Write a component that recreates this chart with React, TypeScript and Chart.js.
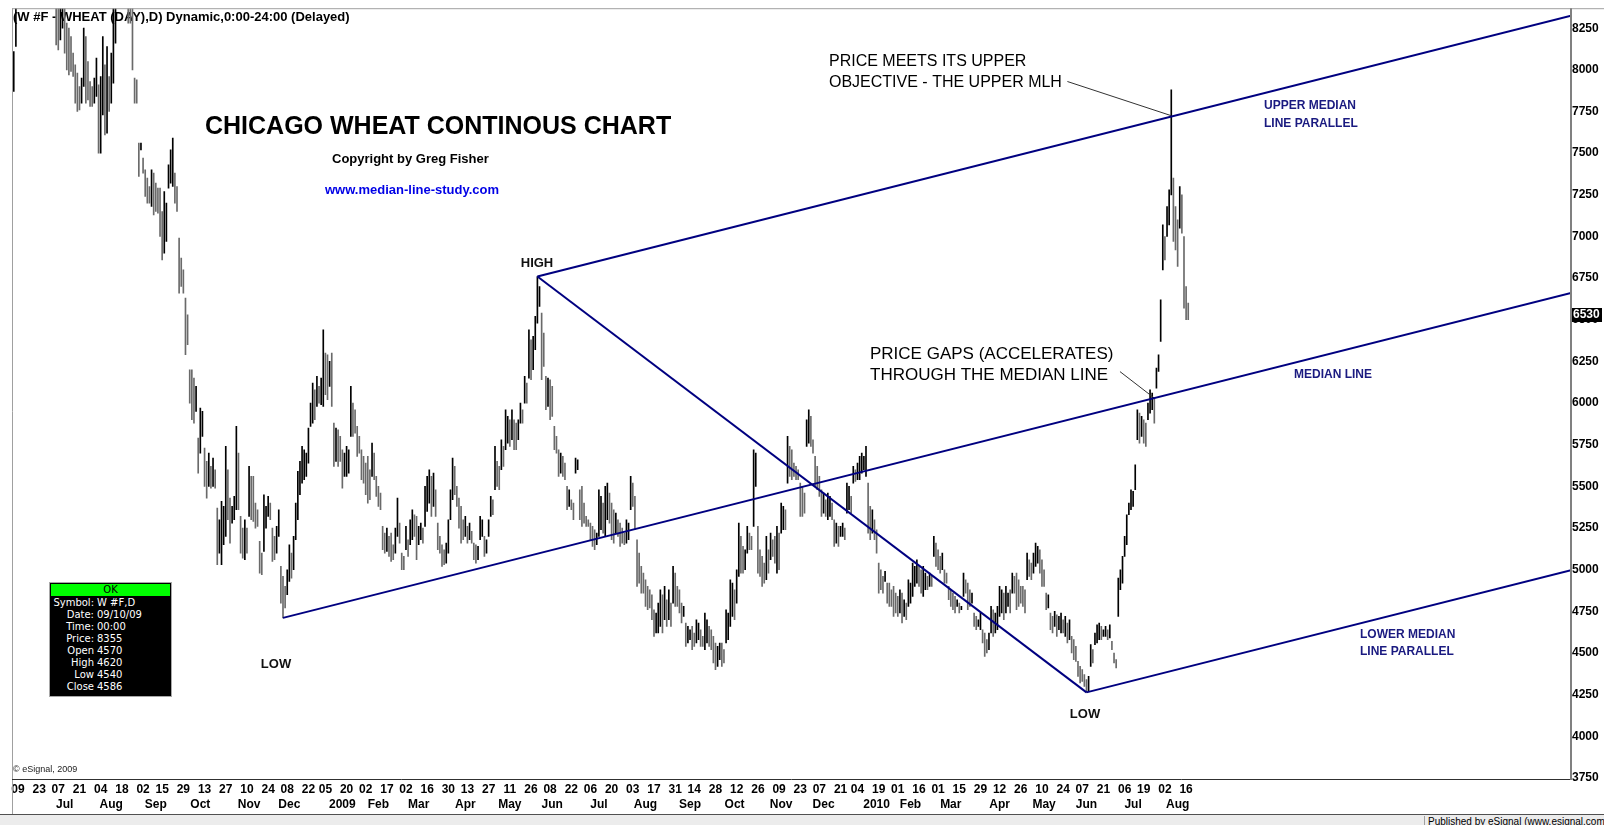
import React, { useEffect, useRef } from "react";
import { Chart, registerables } from "chart.js";

Chart.register(...registerables);

const FONT = '"Liberation Sans", Arial, Helvetica, sans-serif';

// trading-day index of the first bar (index 0 = 09 Jun 2008)
const firstBarIndex = -2;

// daily highs / lows (Chicago wheat continuous, cents)
const high2008 = [
  8110, 8450, 8600, 8700, 8800, 8900, 8850, 8750, 8800, 8700,
  8650, 8600, 8700, 8800, 8750, 8650, 8600, 8700, 8650, 8550,
  8500, 8450, 8420, 8400, 8380, 8280, 8250, 8200, 8100, 8030,
  7980, 7900, 7950, 8250, 8200, 8050, 7930, 7900, 7950, 8070,
  7910, 7960, 8200, 8030, 8140, 7960, 8100, 8450, 8500, 8650,
  8700, 8600, 8650, 8550, 8500, 8400, 8420, 7950, 7940, 7560,
  7560, 7470, 7400, 7350, 7300, 7400, 7380, 7320, 7290, 7290,
  7150, 7270, 7200, 7430, 7520, 7590, 7380, 7300, 6990, 6870,
  6800, 6630, 6530, 6200, 6200, 6150, 6100, 5790, 5970, 5950,
  5730, 5650, 5700, 5620, 5670, 5600, 5370, 5300, 5410, 5380,
  5740, 5600, 5430, 5380, 5440, 5860, 5700, 5320, 5250, 5300,
  5250, 5620, 5560, 5560, 5400, 5360, 5170, 5100, 5450, 5380,
  5440, 5400, 5250, 5200, 5260, 5360, 5020, 4960, 4900, 5000,
  5150, 5100, 5200, 5400, 5590, 5650, 5740, 5720, 5700, 5850,
  6000, 6120, 6080, 6160, 6100, 6150,
];
const low2008 = [
  7870, 8140, 8400, 8450, 8550, 8600, 8600, 8500, 8550, 8450,
  8420, 8400, 8450, 8550, 8500, 8420, 8400, 8450, 8420, 8380,
  8150, 8120, 8180, 8250, 8100, 8000, 7970, 7990, 7960, 7800,
  7750, 7760, 7800, 7900, 7800, 7820, 7780, 7780, 7800, 7840,
  7500, 7500, 7730, 7610, 7620, 7750, 7800, 7920, 8160, 8400,
  8450, 8400, 8420, 8380, 8280, 8280, 8000, 7800, 7800, 7360,
  7520, 7380, 7240, 7200, 7200, 7180, 7130, 7150, 7140, 7000,
  6860, 6900, 6970, 7290, 7320, 7300, 7200, 7150, 6660, 6700,
  6660, 6290, 6350, 6000, 5900, 5880, 5950, 5580, 5700, 5800,
  5500, 5430, 5500, 5490, 5500, 5490, 5030, 5100, 5030, 5150,
  5200, 5300, 5160, 5280, 5300, 5360, 5360, 5100, 5070, 5060,
  5100, 5320, 5300, 5290, 5250, 5260, 4980, 4970, 5110, 5250,
  5320, 5300, 5050, 5060, 5100, 5200, 4800, 4711, 4770, 4850,
  4930, 4950, 5000, 5180, 5300, 5450, 5520, 5540, 5560, 5640,
  5860, 5880, 5900, 5980, 6000, 5990,
];
const high2009 = [
  6440, 6300, 6290, 6250, 6300, 5880, 5850, 5840, 5800, 5720,
  5700, 5740, 5720, 6100, 6000, 5960, 5860, 5800, 5720, 5680,
  5640, 5680, 5600, 5760, 5700, 5560, 5500, 5460, 5260, 5220,
  5250, 5200, 5220, 5150, 5250, 5430, 5280, 5100, 5080, 5260,
  5180, 5300, 5360, 5330, 5320, 5260, 5280, 5250, 5500, 5560,
  5600, 5560, 5580, 5480, 5280, 5200, 5150, 5120, 5160, 5300,
  5480, 5670, 5620, 5500, 5430, 5380, 5300, 5320, 5260, 5280,
  5230, 5160, 5150, 5140, 5320, 5300, 5200, 5180, 5300, 5440,
  5420, 5740, 5650, 5620, 5780, 5740, 5960, 5920, 5900, 5960,
  5900, 5880, 5900, 6000, 5960, 6160, 6120, 6440, 6380, 6400,
  6520, 6760, 6700, 6540, 6420, 6160, 6150, 6140, 6100, 5860,
  5800, 5720, 5700, 5680, 5640, 5500, 5480, 5420, 5400, 5670,
  5660, 5480, 5500, 5400, 5320, 5300, 5280, 5260, 5240, 5220,
  5480, 5440, 5400, 5500, 5520, 5460, 5400, 5360, 5340, 5300,
  5280, 5250, 5220, 5300, 5280, 5560, 5520, 5440, 5180, 5100,
  5020, 4980, 4940, 4900, 4880, 4850, 4760, 4740, 4800, 4880,
  4850, 4900, 4820, 4880, 4800, 5020, 4980, 4900, 4880, 4800,
  4780, 4680, 4660, 4640, 4660, 4620, 4700, 4680, 4640, 4600,
  4740, 4700, 4660, 4640, 4600, 4560, 4540, 4560, 4560, 4520,
  4760, 4740, 4940, 4920, 4880, 5000, 5280, 5200, 5140, 5120,
  5260, 5220, 5200, 5720, 5700, 5260, 5120, 5080, 5040, 5200,
  5120, 5220, 5180, 5200, 5260, 5220, 5400, 5380, 5360, 5800,
  5740, 5720, 5640, 5620, 5600, 5520, 5500, 5460, 5900, 5960,
  5920, 5780, 5680, 5620, 5560, 5480, 5460, 5420, 5460, 5440,
  5400, 5300, 5280, 5260, 5260, 5280, 5250, 5520, 5500, 5440,
  5620, 5600,
];
const low2009 = [
  5980, 6050, 6020, 6100, 5980, 5620, 5650, 5620, 5650, 5490,
  5560, 5560, 5580, 5800, 5800, 5820, 5680, 5700, 5540, 5520,
  5450, 5400, 5420, 5560, 5540, 5440, 5380, 5360, 5120, 5100,
  5110, 5080, 5050, 5060, 5100, 5200, 5160, 5000, 5000, 5120,
  5080, 5150, 5180, 5200, 5060, 5150, 5180, 5160, 5260, 5350,
  5400, 5320, 5380, 5320, 5120, 5100, 5020, 5030, 5040, 5100,
  5300, 5420, 5450, 5380, 5250, 5160, 5180, 5200, 5160, 5180,
  5160, 5060, 5040, 5060, 5180, 5200, 5080, 5100, 5200, 5320,
  5330, 5480, 5500, 5480, 5600, 5620, 5720, 5760, 5740, 5780,
  5720, 5720, 5780, 5880, 5880, 6000, 6000, 6150, 6140, 6200,
  6320, 6480, 6580, 6140, 6220, 5960, 5980, 5900, 5920, 5720,
  5700, 5560, 5580, 5560, 5540, 5360, 5380, 5360, 5300, 5580,
  5600, 5300, 5260, 5280, 5260, 5260, 5180, 5140, 5120, 5150,
  5200, 5240, 5220, 5200, 5300, 5280, 5180, 5160, 5220, 5200,
  5140, 5160, 5150, 5160, 5180, 5360, 5380, 5240, 4900, 4920,
  4860, 4860, 4780, 4760, 4770, 4700, 4600, 4620, 4620, 4660,
  4620, 4700, 4660, 4700, 4660, 4800, 4780, 4780, 4740, 4680,
  4720, 4540, 4560, 4580, 4520, 4540, 4560, 4580, 4540, 4540,
  4520, 4560, 4540, 4520, 4440, 4400, 4420, 4460, 4420, 4440,
  4560, 4580, 4660, 4720, 4700, 4800, 4960, 4980, 4980, 5000,
  5100, 5120, 5120, 5260, 5500, 4980, 4960, 4900, 4920, 4940,
  4980, 5060, 5080, 5040, 4980, 5000, 5220, 5240, 5240, 5520,
  5560, 5540, 5560, 5540, 5540, 5320, 5320, 5340, 5740, 5760,
  5740, 5700, 5500, 5480, 5440, 5320, 5340, 5320, 5300, 5320,
  5300, 5140, 5160, 5140, 5200, 5200, 5180, 5340, 5360, 5340,
  5520, 5530,
];
const high2010 = [
  5640, 5680, 5700, 5680, 5740, 5520, 5380, 5360, 5300, 5240,
  5040, 5000, 4960, 4990, 4920, 4920, 4880, 4900, 4860, 4840,
  4880, 4860, 4820, 4800, 4940, 4920, 5040, 5020, 5060, 5020,
  5000, 5020, 4980, 4960, 4980, 4960, 5200, 5160, 5120, 5080,
  5100, 5000, 4980, 4900, 4880, 4860, 4840, 4820, 4800, 4780,
  4980, 4940, 4920, 4880, 4860, 4740, 4720, 4700, 4740, 4640,
  4620, 4580, 4620, 4780, 4760, 4740, 4780, 4900, 4880, 4860,
  4900, 4860, 4880, 4980, 4960, 4980, 4940, 4900, 4900, 4880,
  5100, 5060, 5040, 5100, 5160, 5140, 5120, 5060, 5000, 4860,
  4850, 4740, 4720, 4750, 4730, 4720, 4740, 4700, 4720, 4680,
  4700, 4600, 4580, 4540, 4450, 4420, 4400, 4370, 4340, 4360,
  4550, 4520, 4620, 4670, 4680, 4660, 4640, 4660, 4640, 4670,
  4570, 4500, 4460, 4950, 5000, 5080, 5200, 5330, 5400, 5480,
  5470, 5630, 5960, 5940, 5920, 5900, 5880, 6000, 6080, 6060,
  6030, 6210, 6290, 6620, 7070, 7000, 7180, 7280, 7880, 7350,
  7180, 7100, 7300, 7250, 7000, 6700, 6600,
];
const low2010 = [
  5540, 5540, 5580, 5600, 5560, 5220, 5180, 5220, 5180, 5100,
  4860, 4880, 4860, 4930, 4800, 4780, 4780, 4720, 4740, 4720,
  4740, 4680, 4720, 4700, 4780, 4800, 4840, 4900, 4920, 4900,
  4860, 4840, 4880, 4880, 4900, 4900, 5080, 5020, 5000, 4980,
  5000, 4920, 4920, 4820, 4780, 4760, 4740, 4780, 4740, 4760,
  4840, 4860, 4760, 4780, 4800, 4660, 4640, 4660, 4640, 4560,
  4480, 4500, 4520, 4620, 4600, 4620, 4640, 4720, 4740, 4700,
  4740, 4780, 4740, 4860, 4860, 4760, 4780, 4800, 4780, 4740,
  4940, 4960, 4940, 4980, 5020, 5040, 4980, 4900, 4900, 4760,
  4770, 4640, 4620, 4660, 4600, 4640, 4620, 4620, 4600, 4560,
  4580, 4500, 4460, 4450, 4360, 4320, 4330, 4300, 4264, 4270,
  4420, 4440, 4550, 4560, 4580, 4580, 4600, 4600, 4580, 4590,
  4520, 4440, 4410, 4720, 4880, 4920, 5080, 5150, 5330, 5360,
  5380, 5480, 5780, 5760, 5800, 5760, 5740, 5900, 5940, 5960,
  5880, 6090, 6190, 6370, 6800, 6860, 7000, 7070, 7250, 6970,
  6920, 6820, 7050, 7020, 6570, 6500, 6500,
];

const lastPrice = 6530;

// x axis: tick positions (trading-day index) and labels
const dayTickIndex = [
  0, 10, 19, 29, 39, 49, 59, 68, 78, 88, 98, 108, 118, 127, 137, 145, 155, 164, 174, 183,
  193, 203, 212, 222, 232, 242, 251, 261, 270, 280, 290, 300, 310, 319, 329, 339, 349, 359, 369, 378,
  388, 396, 406, 415, 425, 434, 444, 454, 463, 473, 483, 493, 502, 512, 522, 531, 541, 551,
];
const dayTickLabels = [
  "09", "23", "07", "21", "04", "18", "02", "15", "29", "13", "27", "10", "24", "08", "22", "05", "20", "02", "17", "02",
  "16", "30", "13", "27", "11", "26", "08", "22", "06", "20", "03", "17", "31", "14", "28", "12", "26", "09", "23", "07",
  "21", "04", "19", "01", "16", "01", "15", "29", "12", "26", "10", "24", "07", "21", "06", "19", "02", "16",
];
const monthTickIndex = [
  22, 44, 65, 86, 109, 128, 153, 170, 189, 211, 232, 252, 274, 296, 317, 338, 360, 380,
  405, 421, 440, 463, 484, 504, 526, 547,
];
const monthTickLabels = [
  "Jul", "Aug", "Sep", "Oct", "Nov", "Dec", "2009", "Feb", "Mar", "Apr", "May", "Jun", "Jul", "Aug", "Sep", "Oct", "Nov", "Dec",
  "2010", "Feb", "Mar", "Apr", "May", "Jun", "Jul", "Aug",
];
const priceTicks = [3750, 4000, 4250, 4500, 4750, 5000, 5250, 5500, 5750, 6000, 6250, 6500, 6750, 7000, 7250, 7500, 7750, 8000, 8250];

// Andrews pitchfork pivots: LOW 2008, HIGH 2009, LOW 2010
const pivotIndex = [125, 245, 504];
const pivotPrice = [4711, 6760, 4264];

// annotation leader lines (index, price)
const leaderUpperIndex = [495, 544];
const leaderUpperPrice = [7930, 7725];
const leaderGapIndex = [519.8, 536];
const leaderGapPrice = [6189, 6030];

const infoRows: [string, string][] = [
  ["Symbol:", "W #F,D"],
  ["Date:", "09/10/09"],
  ["Time:", "00:00"],
  ["Price:", "8355"],
  ["Open", "4570"],
  ["High", "4620"],
  ["Low", "4540"],
  ["Close", "4586"],
];

const X_MIN = -2.83;
const X_MAX = 732.55;
const Y_MIN = 3744;
const Y_MAX = 8370;

type TextItem = { text: string; x: number; y: number; font: string; color: string; align?: CanvasTextAlign };

const annotationTexts: TextItem[] = [
  { text: "CHICAGO WHEAT CONTINOUS CHART", x: 205, y: 127, font: `bold 25px ${FONT}`, color: "#000" },
  { text: "Copyright by Greg Fisher", x: 332, y: 159, font: `bold 13px ${FONT}`, color: "#000" },
  { text: "www.median-line-study.com", x: 325, y: 190, font: `bold 13px ${FONT}`, color: "#0000e6" },
  { text: "HIGH", x: 537, y: 263, font: `bold 13px ${FONT}`, color: "#111", align: "center" },
  { text: "LOW", x: 276, y: 664, font: `bold 13px ${FONT}`, color: "#111", align: "center" },
  { text: "LOW", x: 1085, y: 714, font: `bold 13px ${FONT}`, color: "#111", align: "center" },
  { text: "PRICE MEETS ITS UPPER", x: 829, y: 62, font: `16px ${FONT}`, color: "#000" },
  { text: "OBJECTIVE - THE UPPER MLH", x: 829, y: 83, font: `16px ${FONT}`, color: "#000" },
  { text: "PRICE GAPS (ACCELERATES)", x: 870, y: 354, font: `17px ${FONT}`, color: "#000" },
  { text: "THROUGH THE MEDIAN LINE", x: 870, y: 375, font: `17px ${FONT}`, color: "#000" },
  { text: "UPPER MEDIAN", x: 1264, y: 106, font: `bold 12px ${FONT}`, color: "#1a1a80" },
  { text: "LINE PARALLEL", x: 1264, y: 124, font: `bold 12px ${FONT}`, color: "#1a1a80" },
  { text: "MEDIAN LINE", x: 1294, y: 375, font: `bold 12px ${FONT}`, color: "#1a1a80" },
  { text: "LOWER MEDIAN", x: 1360, y: 635, font: `bold 12px ${FONT}`, color: "#1a1a80" },
  { text: "LINE PARALLEL", x: 1360, y: 652, font: `bold 12px ${FONT}`, color: "#1a1a80" },
  { text: "\u00A9 eSignal, 2009", x: 13, y: 770, font: `9px ${FONT}`, color: "#222" },
];
const headerText: TextItem = {
  text: "(W #F - WHEAT (DAY),D) Dynamic,0:00-24:00 (Delayed)",
  x: 13, y: 17, font: `bold 13px ${FONT}`, color: "#000",
};

function drawText(ctx: CanvasRenderingContext2D, t: TextItem) {
  ctx.save();
  ctx.font = t.font;
  ctx.fillStyle = t.color;
  ctx.textAlign = t.align || "left";
  ctx.textBaseline = "middle";
  ctx.fillText(t.text, t.x, t.y);
  ctx.restore();
}

function InfoBox() {
  return (
    <div
      style={{
        position: "absolute", left: 49, top: 582, width: 121, height: 113,
        background: "#000", border: "1px solid #a8a8a8",
        fontFamily: '"DejaVu Sans", Verdana, sans-serif', fontSize: 10, color: "#fff",
      }}
    >
      <div style={{ background: "#00ff00", color: "#000", textAlign: "center", height: 12, lineHeight: "12px", margin: "1px 1px 1px 1px" }}>OK</div>
      {infoRows.map(([k, v]) => (
        <div key={k} style={{ display: "flex", height: 12, lineHeight: "12px", whiteSpace: "nowrap" }}>
          <span style={{ width: 44, textAlign: "right" }}>{k}</span>
          <span style={{ paddingLeft: 3 }}>{v}</span>
        </div>
      ))}
    </div>
  );
}

export default function App() {
  const ref = useRef<HTMLCanvasElement>(null);

  useEffect(() => {
    document.body.style.margin = "0";
    const canvas = ref.current;
    if (!canvas) return;

    const highs = [...high2008, ...high2009, ...high2010];
    const lows = [...low2008, ...low2009, ...low2010];
    const bars = highs.map((h, i) => ({ x: firstBarIndex + i, y: [lows[i], h] }));
    const barColors = highs.map((h, i) =>
      i === 0 || h + lows[i] >= highs[i - 1] + lows[i - 1] ? "#000000" : "#6a6a6a"
    );

    const [ia, ib, ic] = pivotIndex;
    const [pa, pb, pc] = pivotPrice;
    const mi = (ib + ic) / 2;
    const mp = (pb + pc) / 2;
    const slope = (mp - pa) / (mi - ia);
    const fork = "#000080";
    const lineDs = (pts: { x: number; y: number }[], color: string, width: number) => ({
      type: "line" as const,
      data: pts,
      borderColor: color,
      borderWidth: width,
      pointRadius: 0,
      fill: false,
      tension: 0,
      order: 0,
    });

    const framePlugin = {
      id: "frame",
      beforeDraw(chart: any) {
        const c = chart.ctx as CanvasRenderingContext2D;
        c.save();
        c.fillStyle = "#fff";
        c.fillRect(0, 0, chart.width, chart.height);
        c.restore();
      },
      beforeDatasetsDraw(chart: any) {
        drawText(chart.ctx, headerText);
      },
      afterDatasetsDraw(chart: any) {
        const c = chart.ctx as CanvasRenderingContext2D;
        annotationTexts.forEach((t) => drawText(c, t));
      },
      afterDraw(chart: any) {
        const c = chart.ctx as CanvasRenderingContext2D;
        const a = chart.chartArea;
        c.save();
        c.lineWidth = 1;
        c.strokeStyle = "#a0a0a0";
        c.beginPath();
        c.moveTo(a.left + 0.5, a.top);
        c.lineTo(a.left + 0.5, 815);
        c.moveTo(a.left, a.top + 0.5);
        c.lineTo(chart.width, a.top + 0.5);
        c.stroke();
        c.strokeStyle = "#303030";
        c.beginPath();
        c.moveTo(a.left, a.bottom + 0.5);
        c.lineTo(a.right, a.bottom + 0.5);
        c.stroke();
        c.strokeStyle = "#808080";
        c.lineWidth = 2;
        c.beginPath();
        c.moveTo(a.right, a.top);
        c.lineTo(a.right, a.bottom + 1);
        c.stroke();
        // last price tag
        const yp = chart.scales.y.getPixelForValue(lastPrice);
        c.fillStyle = "#000";
        c.fillRect(a.right + 1, Math.round(yp) - 7, 30, 14);
        c.fillStyle = "#fff";
        c.font = `bold 12px ${FONT}`;
        c.textBaseline = "middle";
        c.textAlign = "left";
        c.fillText(String(lastPrice), a.right + 2, Math.round(yp));
        c.restore();
      },
    };

    const tickFont = { family: FONT, size: 12, weight: "bold" as const };

    const chart = new Chart(canvas, {
      type: "bar",
      data: {
        datasets: [
          lineDs([{ x: ia, y: pa }, { x: X_MAX, y: pa + slope * (X_MAX - ia) }], fork, 2),
          lineDs([{ x: ib, y: pb }, { x: X_MAX, y: pb + slope * (X_MAX - ib) }], fork, 2),
          lineDs([{ x: ic, y: pc }, { x: X_MAX, y: pc + slope * (X_MAX - ic) }], fork, 2),
          lineDs([{ x: ib, y: pb }, { x: ic, y: pc }], fork, 2),
          lineDs(leaderUpperIndex.map((x, i) => ({ x, y: leaderUpperPrice[i] })), "#333333", 1),
          lineDs(leaderGapIndex.map((x, i) => ({ x, y: leaderGapPrice[i] })), "#333333", 1),
          {
            type: "bar" as const,
            data: bars as any,
            backgroundColor: barColors,
            borderWidth: 0,
            barThickness: 1,
            grouped: false,
            order: 1,
          },
        ] as any,
      },
      options: {
        responsive: false,
        animation: false,
        events: [],
        layout: { padding: { left: 12, top: 8, right: 0, bottom: 0 } },
        plugins: { legend: { display: false }, tooltip: { enabled: false } },
        scales: {
          x: {
            type: "linear",
            position: "bottom",
            bounds: "data",
            offset: false,
            min: X_MIN,
            max: X_MAX,
            weight: 0,
            grid: { display: false, drawTicks: false, offset: false },
            border: { display: false },
            afterBuildTicks: (s: any) => {
              s.ticks = dayTickIndex.map((v) => ({ value: v }));
            },
            afterFit: (s: any) => {
              s.height = 16;
            },
            ticks: {
              autoSkip: false,
              maxRotation: 0,
              minRotation: 0,
              padding: 3,
              color: "#000",
              font: tickFont,
              callback: (_v: any, i: number) => dayTickLabels[i] ?? "",
            },
          },
          x2: {
            type: "linear",
            position: "bottom",
            bounds: "data",
            offset: false,
            min: X_MIN,
            max: X_MAX,
            weight: 1,
            grid: { display: false, drawTicks: false, offset: false },
            border: { display: false },
            afterBuildTicks: (s: any) => {
              s.ticks = monthTickIndex.map((v) => ({ value: v }));
            },
            afterFit: (s: any) => {
              s.height = 30;
            },
            ticks: {
              autoSkip: false,
              maxRotation: 0,
              minRotation: 0,
              padding: 2,
              color: "#000",
              font: tickFont,
              callback: (_v: any, i: number) => monthTickLabels[i] ?? "",
            },
          },
          y: {
            type: "linear",
            position: "right",
            bounds: "data",
            min: Y_MIN,
            max: Y_MAX,
            grid: { display: false, drawTicks: false },
            border: { display: false },
            afterBuildTicks: (s: any) => {
              s.ticks = priceTicks.map((v) => ({ value: v }));
            },
            afterFit: (s: any) => {
              s.width = 33;
            },
            ticks: {
              padding: 1,
              color: "#000",
              font: tickFont,
              callback: (v: any) => String(v),
            },
          },
        } as any,
      },
      plugins: [framePlugin],
    });

    return () => chart.destroy();
  }, []);

  return (
    <div style={{ position: "relative", width: 1604, height: 825, overflow: "hidden", background: "#fff" }}>
      <canvas ref={ref} width={1604} height={825} style={{ display: "block", width: 1604, height: 825 }} />
      <InfoBox />
      <div
        style={{
          position: "absolute", left: 0, top: 814, width: 1604, height: 11,
          background: "#ececec", borderTop: "1px solid #505050",
        }}
      >
        <span
          style={{
            position: "absolute", left: 1424, top: 1, height: 10, borderLeft: "1px solid #a0a0a0", paddingLeft: 3,
            font: `10px ${FONT}`, color: "#000", whiteSpace: "nowrap", lineHeight: "11px",
          }}
        >
          Published by eSignal (www.esignal.com)
        </span>
      </div>
    </div>
  );
}
